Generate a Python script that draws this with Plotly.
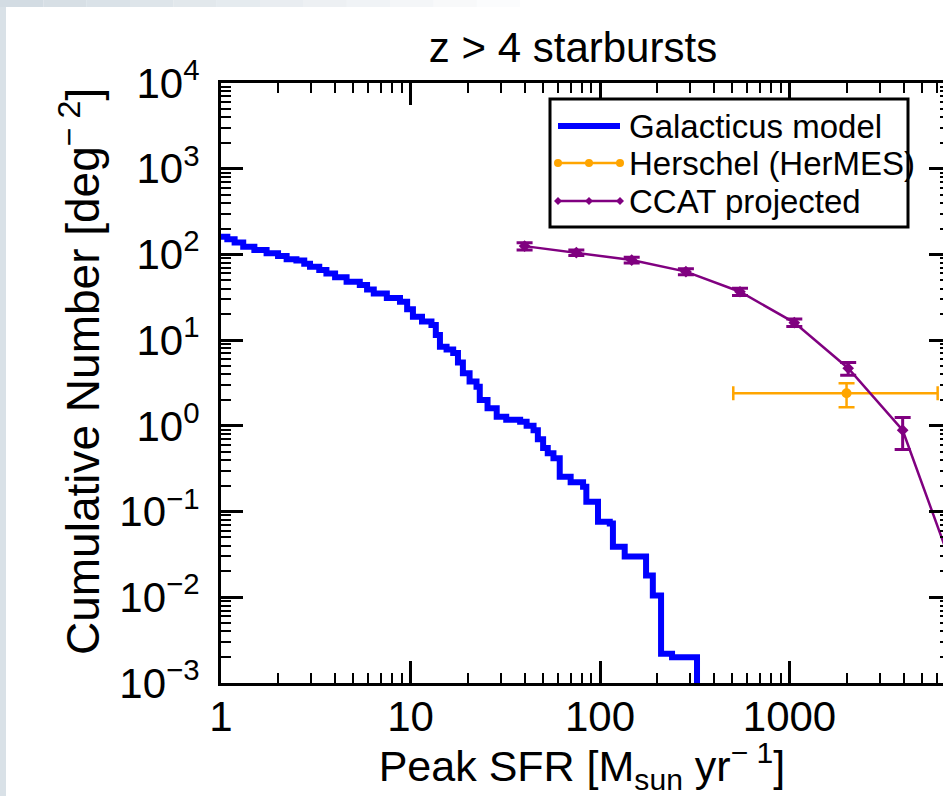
import plotly.graph_objects as go

# Galacticus model: cumulative counts of z > 4 starbursts (step function, value after each step)
galacticus_sfr = [1.0, 1.08, 1.18, 1.31, 1.5, 1.74, 2.0, 2.22, 2.5, 2.75, 2.95, 3.3, 3.6,
                  4.0, 4.6, 5.4, 5.9, 6.4, 7.5, 8.8, 9.6, 10.3, 11.5, 12.9, 13.6, 14.3,
                  15.5, 16.8, 17.8, 18.9, 20.5, 22.3, 23.2, 25.5, 28.5, 32.0, 37.9, 41.0,
                  44.6, 47.0, 50.1, 53.0, 56.8, 61.3, 70.0, 81.4, 84.7, 97.6, 112.6, 117.0,
                  135.0, 175.0, 190.0, 210.0, 240.0, 325.0]
galacticus_n = [161, 150, 138, 123, 113, 103, 96, 88, 85, 78, 72, 66, 60,
                54, 48, 44, 39, 35, 31, 28, 23, 18.8, 16.5, 15, 11.5, 8.4,
                7.8, 7.1, 5.5, 4.1, 3.3, 2.86, 2.0, 1.6, 1.28, 1.18, 1.12, 1.0,
                0.89, 0.7, 0.55, 0.48, 0.42, 0.255, 0.22, 0.195, 0.13, 0.076, 0.0728, 0.0388,
                0.030, 0.018, 0.0105, 0.0022, 0.0020, 0.0001]

# Herschel (HerMES) measurement
herschel_sfr = [2000]
herschel_n = [2.4]
herschel_sfr_lo = [1495]
herschel_sfr_hi = [4050]
herschel_n_err = [0.75]

# CCAT projection
ccat_sfr = [40, 75, 147, 284, 548, 1060, 2040, 3955, 7650]
ccat_n = [125, 105, 86, 63, 36.7, 16, 4.7, 0.89, 0.016]
ccat_err = [12, 8, 6.5, 5, 3.5, 1.6, 0.8, 0.36, 0.01]

series_names = ["Galacticus model", "Herschel (HerMES)", "CCAT projected"]

y_tickvals = [1e-3, 1e-2, 1e-1, 1e0, 1e1, 1e2, 1e3, 1e4]
y_ticktext = ["10<sup>\u22123</sup>", "10<sup>\u22122</sup>", "10<sup>\u22121</sup>",
              "10<sup>0</sup>", "10<sup>1</sup>", "10<sup>2</sup>", "10<sup>3</sup>",
              "10<sup>4</sup>"]
x_tickvals = [1, 10, 100, 1000]
x_ticktext = ["1", "10", "100", "1000"]

FONT = "Liberation Sans, Arial, Helvetica, sans-serif"
BLUE = "#0000ff"
ORANGE = "#ffa500"
PURPLE = "#800080"
COLORS = [BLUE, ORANGE, PURPLE]

# page geometry of the plotting box (pixels)
W, H = 943, 796
PL, PT, PB = 221, 83, 683
PW, PH = W - PL, PB - PT
Y_RANGE = [-3, 4]


def px(x):
    return (x - PL) / PW


def py(y):
    return 1 - (y - PT) / PH


fig = go.Figure()

fig.add_trace(go.Scatter(
    x=galacticus_sfr, y=galacticus_n, mode="lines", line_shape="hv",
    line=dict(color=BLUE, width=6), name=series_names[0], showlegend=False))

fig.add_trace(go.Scatter(
    x=herschel_sfr, y=herschel_n, mode="markers", name=series_names[1],
    marker=dict(color=ORANGE, size=10, symbol="circle"), showlegend=False,
    error_x=dict(type="data", symmetric=False, array=herschel_sfr_hi,
                 arrayminus=herschel_sfr_lo, color=ORANGE, thickness=2.5, width=7),
    error_y=dict(type="data", array=herschel_n_err, color=ORANGE, thickness=2.5, width=8)))

fig.add_trace(go.Scatter(
    x=ccat_sfr, y=ccat_n, mode="lines+markers", name=series_names[2],
    line=dict(color=PURPLE, width=2.5), showlegend=False,
    marker=dict(color=PURPLE, size=9, symbol="diamond"),
    error_y=dict(type="data", array=ccat_err, color=PURPLE, thickness=3, width=8)))

# empty trace that carries the right-hand tick axis
fig.add_trace(go.Scatter(x=[], y=[], yaxis="y2", showlegend=False, hoverinfo="skip"))

minor_ticks = dict(ticks="inside", ticklen=10, tickwidth=2, tickcolor="black",
                   dtick="D1", showgrid=False)
tick_font = dict(family=FONT, size=42, color="black")

fig.update_layout(
    xaxis=dict(type="log", range=[0, 3.81], tickmode="array",
               tickvals=x_tickvals, ticktext=x_ticktext, ticklabelstandoff=-5,
               showline=True, linecolor="black", linewidth=3, mirror="ticks",
               ticks="inside", ticklen=22, tickwidth=3, tickcolor="black",
               showgrid=False, zeroline=False, tickfont=tick_font, minor=minor_ticks,
               title=dict(text="Peak SFR [M<sub>sun</sub> yr<sup>\u2212 1</sup>]",
                          font=dict(family=FONT, size=43, color="black"), standoff=3)),
    yaxis=dict(type="log", range=Y_RANGE, tickmode="array",
               tickvals=y_tickvals, ticktext=y_ticktext, ticklabelstandoff=10,
               showline=True, linecolor="black", linewidth=3, mirror=False,
               ticks="inside", ticklen=22, tickwidth=3, tickcolor="black",
               showgrid=False, zeroline=False, tickfont=tick_font, minor=minor_ticks),
    yaxis2=dict(type="log", range=Y_RANGE, overlaying="y", side="right", anchor="x",
                tickmode="array", tickvals=y_tickvals, showticklabels=False,
                showline=False, ticks="inside", ticklen=14, tickwidth=3, tickcolor="black",
                showgrid=False, zeroline=False,
                minor=dict(ticks="inside", ticklen=3, tickwidth=2, tickcolor="black",
                           dtick="D1", showgrid=False)),
)

shapes = []
annotations = []

# slide background strips along the top and left edges
shapes.append(dict(type="rect", xref="paper", yref="paper", x0=px(0), x1=px(6),
                   y0=py(H), y1=py(0), fillcolor="#d9e1e7", line_width=0, layer="above"))
n_steps = 12
for i in range(n_steps):
    shapes.append(dict(type="rect", xref="paper", yref="paper",
                       x0=px(520 * i / n_steps), x1=px(520 * (i + 1) / n_steps),
                       y0=py(7), y1=py(0), fillcolor="#d3dce3",
                       opacity=1 - i / n_steps, line_width=0, layer="above"))

# y-axis title
annotations.append(dict(text="Cumulative Number [deg<sup>\u2212 2</sup>]",
                        xref="paper", yref="paper", x=px(80), y=py(372),
                        xanchor="center", yanchor="middle", textangle=-90,
                        showarrow=False, font=dict(family=FONT, size=46, color="black")))

# legend box with line samples
LX0, LX1, LY0, LY1 = 550, 908, 99, 227
shapes.append(dict(type="rect", xref="paper", yref="paper",
                   x0=px(LX0), x1=px(LX1), y0=py(LY1), y1=py(LY0),
                   fillcolor="white", line=dict(color="black", width=3), layer="above"))
row_y = [126, 163, 201]
line_w = [6, 2.5, 2.5]
for k, (name, col, yy, lw) in enumerate(zip(series_names, COLORS, row_y, line_w)):
    shapes.append(dict(type="line", xref="paper", yref="paper",
                       x0=px(558), x1=px(620), y0=py(yy), y1=py(yy),
                       line=dict(color=col, width=lw), layer="above"))
    if k == 1:
        for cx in (558, 589, 620):
            shapes.append(dict(type="circle", xref="paper", yref="paper",
                               x0=px(cx - 4), x1=px(cx + 4), y0=py(yy + 4), y1=py(yy - 4),
                               fillcolor=col, line_width=0, layer="above"))
    elif k == 2:
        for cx in (558, 589, 620):
            path = (f"M {px(cx - 4)} {py(yy)} L {px(cx)} {py(yy - 4)} "
                    f"L {px(cx + 4)} {py(yy)} L {px(cx)} {py(yy + 4)} Z")
            shapes.append(dict(type="path", xref="paper", yref="paper", path=path,
                               fillcolor=col, line_width=0, layer="above"))
    annotations.append(dict(text=name, xref="paper", yref="paper", x=px(627), y=py(yy),
                            xanchor="left", yanchor="middle", showarrow=False,
                            font=dict(family=FONT, size=33, color="black")))

fig.update_layout(
    width=W, height=H,
    margin=dict(l=PL, r=0, t=PT, b=H - PB, pad=0),
    paper_bgcolor="white", plot_bgcolor="white",
    font=dict(family=FONT, color="black"),
    title=dict(text="z > 4 starbursts", x=573 / W, xanchor="center",
               y=1 - 47 / H, yanchor="middle",
               font=dict(family=FONT, size=42, color="black")),
    shapes=shapes,
    annotations=annotations,
    showlegend=False,
)

fig.write_html("out.html")
